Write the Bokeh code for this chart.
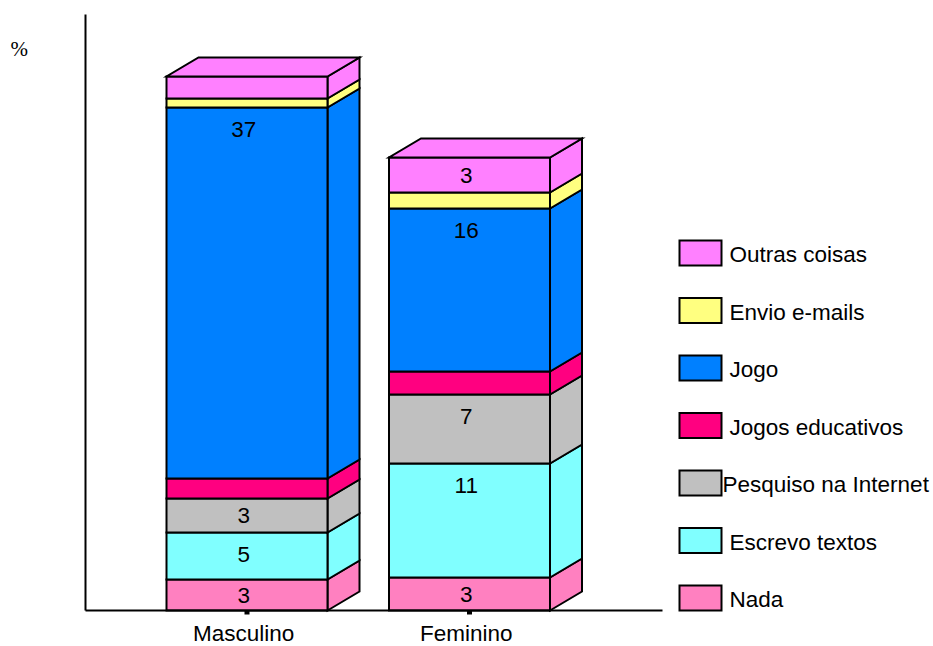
from bokeh.plotting import figure
from bokeh.models import Range1d, FixedTicker, Label
from bokeh.core.properties import value
from bokeh.embed import file_html
from bokeh.resources import INLINE

categories = ["Masculino", "Feminino"]
series = ["Nada", "Escrevo textos", "Pesquiso na Internet", "Jogos educativos",
          "Jogo", "Envio e-mails", "Outras coisas"]
colors = ["#FF80C0", "#80FFFF", "#C0C0C0", "#FF0080", "#0080FF", "#FFFF80", "#FF80FF"]
masculino = [3.1, 4.7, 3.4, 2.0, 37.1, 0.9, 2.2]
feminino = [3.3, 11.4, 6.9, 2.3, 16.3, 1.6, 3.5]
masculino_labels = ["3", "5", "3", "", "37", "", ""]
feminino_labels = ["3", "11", "7", "", "16", "", "3"]

FONT = "Liberation Sans"
FS = "22.5px"
W, H = 933, 646
AX_L, AX_T, AX_R, AX_B = 85, 14, 662, 610   # axis extents on the page
C0 = 246.5         # page x of first category
PX_X = 222.5       # pixels per category
PX_Y = 10.0        # pixels per value unit
HALF = 80.5 / PX_X
DX, DY = 32 / PX_X, 19 / PX_Y
TEXT_SHIFT = -3.25  # reference texts sit slightly left of the bar centres


def px_x(px):
    return (px - C0) / PX_X


def px_y(py):
    return (AX_B - py) / PX_Y


p = figure(width=W, height=H, output_backend="svg", toolbar_location=None,
           min_border_left=0, min_border_right=0, min_border_top=0, min_border_bottom=0,
           x_range=Range1d(px_x(0), px_x(W)), y_range=Range1d(px_y(H), px_y(0)))
p.outline_line_color = None
p.grid.visible = False
p.background_fill_color = "white"

# baseline and category labels (labels sit a little left of the tick marks)
label_ticks = [i + TEXT_SHIFT / PX_X for i in range(len(categories))]
ax = p.xaxis[0]
ax.fixed_location = 0
ax.ticker = FixedTicker(ticks=label_ticks)
ax.bounds = (px_x(AX_L), px_x(AX_R))
ax.major_label_overrides = {t: c for t, c in zip(label_ticks, categories)}
ax.major_label_text_font = FONT
ax.major_label_text_font_size = FS
ax.major_label_text_color = "black"
ax.major_label_standoff = 10
ax.axis_line_color = "black"
ax.axis_line_width = 2
ax.major_tick_line_color = None
ax.major_tick_in = 0
ax.major_tick_out = 0
ax.minor_tick_line_color = None

# tick marks under the bars
for i in range(len(categories)):
    p.segment([i], [0], [i], [-0.4], line_color="black", line_width=5)

ay = p.yaxis[0]
ay.ticker = FixedTicker(ticks=[])
ay.fixed_location = px_x(AX_L)
ay.bounds = (0, px_y(AX_T))
ay.axis_line_color = "black"
ay.axis_line_width = 2
ay.major_tick_line_color = None
ay.minor_tick_line_color = None

lc = dict(line_color="black", line_width=2, line_join="miter")
for i, (vals, labs) in enumerate(zip([masculino, feminino], [masculino_labels, feminino_labels])):
    x0, x1 = i - HALF, i + HALF
    base = 0.0
    for k, (v, lab) in enumerate(zip(vals, labs)):
        top = base + v
        c = colors[k]
        p.patch([x1, x1 + DX, x1 + DX, x1], [base, base + DY, top + DY, top], fill_color=c, **lc)
        p.patch([x0, x1, x1, x0], [base, base, top, top], fill_color=c, **lc)
        if k == len(vals) - 1:
            p.patch([x0, x1, x1 + DX, x0 + DX], [top, top, top + DY, top + DY], fill_color=c, **lc)
        if lab:
            p.text([i], [top - min(v / 2, 2.15)], text=[lab], text_font=value(FONT),
                   text_font_size=FS, text_align="center", text_baseline="middle",
                   text_color="black", x_offset=TEXT_SHIFT)
        base = top

# legend, top to bottom
SW_L, SW_R, SW_H = 679, 721, 25
SW_TOP, STEP = 240, 57.5
for n, k in enumerate(range(len(series) - 1, -1, -1)):
    y_top = SW_TOP + n * STEP
    p.quad(left=[px_x(SW_L)], right=[px_x(SW_R)], top=[px_y(y_top)], bottom=[px_y(y_top + SW_H)],
           fill_color=colors[k], line_color="black", line_width=2, line_join="miter")
    tx = 722 if series[k] == "Pesquiso na Internet" else 729
    p.text([px_x(tx)], [px_y(y_top + SW_H / 2 + 1.5)], text=[series[k]], text_font=value(FONT),
           text_font_size=FS, text_align="left", text_baseline="middle", text_color="black")

p.add_layout(Label(x=10, y=H - 60, x_units="screen", y_units="screen", text="%",
                   text_font="Liberation Serif", text_font_size="21px", text_color="black"))

open("out.html", "w").write(file_html(p, INLINE))
